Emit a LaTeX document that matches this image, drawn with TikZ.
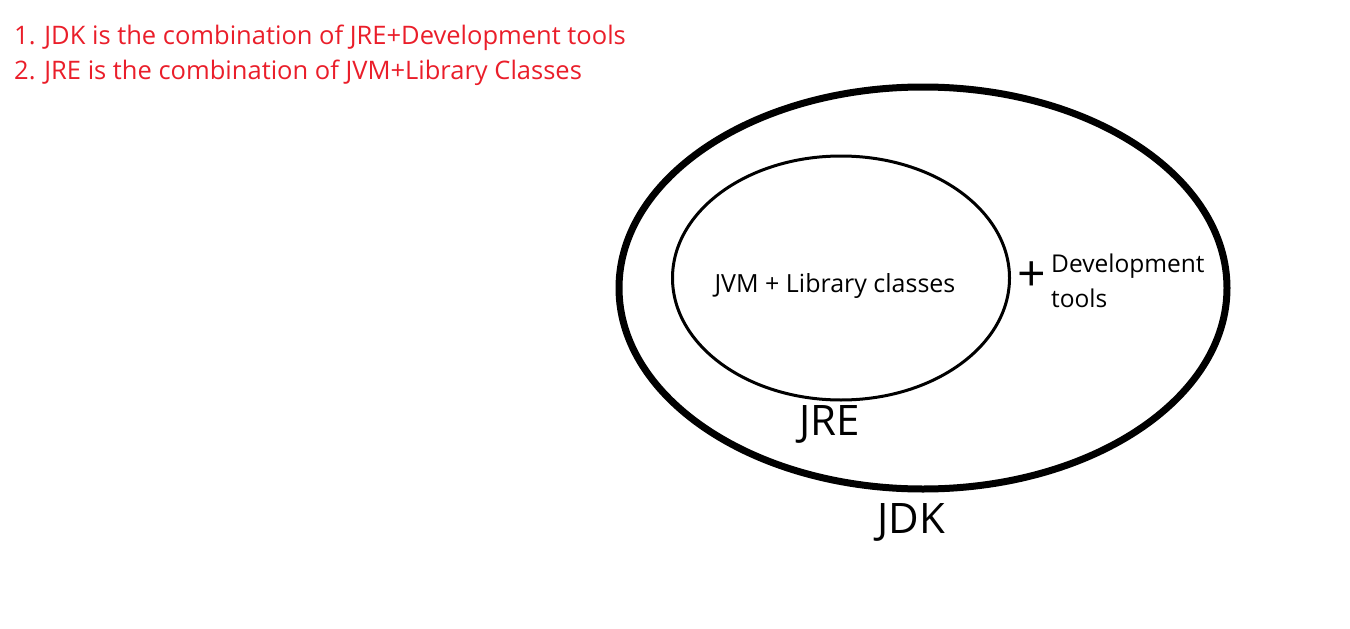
\documentclass[tikz,border=0pt]{standalone}
\usepackage{fontspec}
\setmainfont{Open Sans}
\usetikzlibrary{shapes.geometric}
\definecolor{notered}{RGB}{234,30,42}
\begin{document}
\begin{tikzpicture}[x=1pt,y=-1pt,
    note/.style={anchor=base west,text=notered,inner sep=0pt,font=\fontsize{25.5}{30}\selectfont},
    ring/.style={draw,ellipse,inner sep=0pt},
    big/.style={inner sep=0pt,font=\fontsize{42}{46}\selectfont}]
  \useasboundingbox (0,0) rectangle (1350,629);
  % notes
  \node[note] (n1) at (14,44) {1. JDK is the combination of JRE+Development tools};
  \node[note] (n2) at (14,79) {2. JRE is the combination of JVM+Library Classes};
  % ellipses
  \node[ring,line width=7pt,minimum width=608,minimum height=402] (jdk) at (923,288) {};
  \node[ring,line width=3pt,minimum width=337,minimum height=244] (jre) at (841,278) {};
  % texts
  \node[inner sep=0pt,font=\fontsize{25}{30}\selectfont] (core) at (835,286) {JVM + Library classes};
  \node[inner sep=0pt,font=\fontsize{50}{50}\selectfont] (plus) at (1032,277) {+};
  \node[anchor=west,inner sep=0pt,align=left,font=\fontsize{24.5}{35}\selectfont] (tools) at (1051,281) {Development\\tools};
  \node[big] (jrelabel) at (830,424) {JRE};
  \node[big] (jdklabel) at (911,522) {JDK};
\end{tikzpicture}
\end{document}
